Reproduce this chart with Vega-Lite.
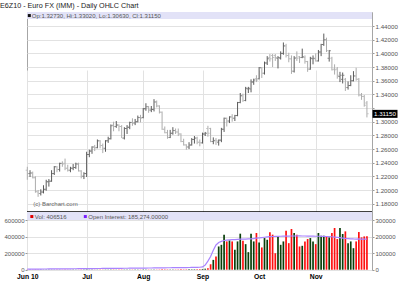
{
  "$schema": "https://vega.github.io/schema/vega-lite/v6.json",
  "width": 345,
  "height": 258,
  "autosize": {"type": "none"},
  "padding": {"left": 27, "top": 12, "right": 28, "bottom": 23},
  "background": "white",
  "config": {
    "view": {"stroke": "#a6a6a6"},
    "font": "Liberation Sans",
    "axis": {"labelFont": "Liberation Sans", "domain": false}
  },
  "title": {"text": "E6Z10 - Euro FX (IMM) - Daily OHLC Chart", "anchor": "start", "frame": "group", "dx": -27, "offset": 3, "fontSize": 7.2, "fontWeight": "normal", "color": "#1a1a1a", "font": "Liberation Sans"},
  "datasets": {
    "d": [
      {"date": "2010-06-01", "open": 1.2290, "high": 1.2340, "low": 1.2150, "close": 1.2240, "vol": 2100, "oi": 3200},
      {"date": "2010-06-02", "open": 1.2240, "high": 1.2290, "low": 1.2190, "close": 1.2250, "vol": 1800, "oi": 3300},
      {"date": "2010-06-03", "open": 1.2250, "high": 1.2270, "low": 1.2170, "close": 1.2180, "vol": 2500, "oi": 3500},
      {"date": "2010-06-04", "open": 1.2180, "high": 1.2200, "low": 1.1960, "close": 1.1980, "vol": 4100, "oi": 3700},
      {"date": "2010-06-07", "open": 1.1970, "high": 1.2000, "low": 1.1900, "close": 1.1950, "vol": 3300, "oi": 3900},
      {"date": "2010-06-08", "open": 1.1950, "high": 1.2010, "low": 1.1920, "close": 1.1970, "vol": 2900, "oi": 4000},
      {"date": "2010-06-09", "open": 1.1970, "high": 1.2070, "low": 1.1950, "close": 1.2010, "vol": 2600, "oi": 4200},
      {"date": "2010-06-10", "open": 1.2010, "high": 1.2150, "low": 1.1990, "close": 1.2120, "vol": 3100, "oi": 4300},
      {"date": "2010-06-11", "open": 1.2120, "high": 1.2160, "low": 1.2050, "close": 1.2130, "vol": 2200, "oi": 4500},
      {"date": "2010-06-14", "open": 1.2130, "high": 1.2290, "low": 1.2120, "close": 1.2240, "vol": 2700, "oi": 4600},
      {"date": "2010-06-15", "open": 1.2240, "high": 1.2350, "low": 1.2220, "close": 1.2340, "vol": 2400, "oi": 4800},
      {"date": "2010-06-16", "open": 1.2340, "high": 1.2350, "low": 1.2260, "close": 1.2300, "vol": 2000, "oi": 4900},
      {"date": "2010-06-17", "open": 1.2300, "high": 1.2400, "low": 1.2270, "close": 1.2390, "vol": 2300, "oi": 5100},
      {"date": "2010-06-18", "open": 1.2390, "high": 1.2420, "low": 1.2340, "close": 1.2380, "vol": 1900, "oi": 5200},
      {"date": "2010-06-21", "open": 1.2390, "high": 1.2460, "low": 1.2290, "close": 1.2320, "vol": 2800, "oi": 5400},
      {"date": "2010-06-22", "open": 1.2320, "high": 1.2370, "low": 1.2270, "close": 1.2290, "vol": 2100, "oi": 5500},
      {"date": "2010-06-23", "open": 1.2290, "high": 1.2340, "low": 1.2260, "close": 1.2320, "vol": 1700, "oi": 5600},
      {"date": "2010-06-24", "open": 1.2320, "high": 1.2380, "low": 1.2290, "close": 1.2330, "vol": 1900, "oi": 5800},
      {"date": "2010-06-25", "open": 1.2330, "high": 1.2400, "low": 1.2310, "close": 1.2380, "vol": 2200, "oi": 5900},
      {"date": "2010-06-28", "open": 1.2380, "high": 1.2400, "low": 1.2270, "close": 1.2280, "vol": 2000, "oi": 6100},
      {"date": "2010-06-29", "open": 1.2280, "high": 1.2290, "low": 1.2170, "close": 1.2200, "vol": 3000, "oi": 6200},
      {"date": "2010-06-30", "open": 1.2200, "high": 1.2260, "low": 1.2160, "close": 1.2240, "vol": 2400, "oi": 6400},
      {"date": "2010-07-01", "open": 1.2240, "high": 1.2560, "low": 1.2190, "close": 1.2520, "vol": 4200, "oi": 6600},
      {"date": "2010-07-02", "open": 1.2520, "high": 1.2590, "low": 1.2480, "close": 1.2570, "vol": 2500, "oi": 6700},
      {"date": "2010-07-06", "open": 1.2570, "high": 1.2640, "low": 1.2530, "close": 1.2630, "vol": 2300, "oi": 6900},
      {"date": "2010-07-07", "open": 1.2630, "high": 1.2660, "low": 1.2570, "close": 1.2620, "vol": 2100, "oi": 7000},
      {"date": "2010-07-08", "open": 1.2620, "high": 1.2740, "low": 1.2610, "close": 1.2720, "vol": 2600, "oi": 7200},
      {"date": "2010-07-09", "open": 1.2720, "high": 1.2730, "low": 1.2610, "close": 1.2650, "vol": 2000, "oi": 7300},
      {"date": "2010-07-12", "open": 1.2650, "high": 1.2680, "low": 1.2540, "close": 1.2610, "vol": 2200, "oi": 7500},
      {"date": "2010-07-13", "open": 1.2610, "high": 1.2730, "low": 1.2560, "close": 1.2720, "vol": 2700, "oi": 7600},
      {"date": "2010-07-14", "open": 1.2720, "high": 1.2780, "low": 1.2690, "close": 1.2750, "vol": 2400, "oi": 7800},
      {"date": "2010-07-15", "open": 1.2750, "high": 1.2960, "low": 1.2740, "close": 1.2940, "vol": 3900, "oi": 8000},
      {"date": "2010-07-16", "open": 1.2950, "high": 1.3000, "low": 1.2860, "close": 1.2930, "vol": 3300, "oi": 8100},
      {"date": "2010-07-19", "open": 1.2930, "high": 1.3010, "low": 1.2910, "close": 1.2950, "vol": 2200, "oi": 8300},
      {"date": "2010-07-20", "open": 1.2950, "high": 1.2960, "low": 1.2860, "close": 1.2930, "vol": 2500, "oi": 8400},
      {"date": "2010-07-21", "open": 1.2930, "high": 1.2950, "low": 1.2760, "close": 1.2760, "vol": 3100, "oi": 8600},
      {"date": "2010-07-22", "open": 1.2760, "high": 1.2920, "low": 1.2740, "close": 1.2900, "vol": 2800, "oi": 8700},
      {"date": "2010-07-23", "open": 1.2900, "high": 1.2950, "low": 1.2820, "close": 1.2920, "vol": 2300, "oi": 8900},
      {"date": "2010-07-26", "open": 1.2920, "high": 1.3000, "low": 1.2890, "close": 1.2990, "vol": 2600, "oi": 9000},
      {"date": "2010-07-27", "open": 1.2990, "high": 1.3050, "low": 1.2940, "close": 1.2980, "vol": 2900, "oi": 9200},
      {"date": "2010-07-28", "open": 1.2980, "high": 1.3040, "low": 1.2950, "close": 1.3000, "vol": 2400, "oi": 9300},
      {"date": "2010-07-29", "open": 1.3000, "high": 1.3090, "low": 1.2990, "close": 1.3060, "vol": 2700, "oi": 9500},
      {"date": "2010-07-30", "open": 1.3060, "high": 1.3100, "low": 1.2990, "close": 1.3050, "vol": 2500, "oi": 9700},
      {"date": "2010-08-02", "open": 1.3060, "high": 1.3200, "low": 1.3050, "close": 1.3190, "vol": 3400, "oi": 9900},
      {"date": "2010-08-03", "open": 1.3190, "high": 1.3270, "low": 1.3160, "close": 1.3220, "vol": 3100, "oi": 10100},
      {"date": "2010-08-04", "open": 1.3220, "high": 1.3230, "low": 1.3130, "close": 1.3170, "vol": 2900, "oi": 10200},
      {"date": "2010-08-05", "open": 1.3170, "high": 1.3230, "low": 1.3140, "close": 1.3180, "vol": 2600, "oi": 10400},
      {"date": "2010-08-06", "open": 1.3180, "high": 1.3330, "low": 1.3150, "close": 1.3290, "vol": 3800, "oi": 10600},
      {"date": "2010-08-09", "open": 1.3290, "high": 1.3310, "low": 1.3210, "close": 1.3230, "vol": 2700, "oi": 10800},
      {"date": "2010-08-10", "open": 1.3230, "high": 1.3240, "low": 1.3120, "close": 1.3140, "vol": 3300, "oi": 11000},
      {"date": "2010-08-11", "open": 1.3140, "high": 1.3150, "low": 1.2880, "close": 1.2890, "vol": 5200, "oi": 11300},
      {"date": "2010-08-12", "open": 1.2890, "high": 1.2930, "low": 1.2830, "close": 1.2840, "vol": 4300, "oi": 11500},
      {"date": "2010-08-13", "open": 1.2840, "high": 1.2880, "low": 1.2750, "close": 1.2770, "vol": 3900, "oi": 11700},
      {"date": "2010-08-16", "open": 1.2770, "high": 1.2880, "low": 1.2760, "close": 1.2830, "vol": 3100, "oi": 11900},
      {"date": "2010-08-17", "open": 1.2830, "high": 1.2920, "low": 1.2810, "close": 1.2870, "vol": 3500, "oi": 12100},
      {"date": "2010-08-18", "open": 1.2870, "high": 1.2900, "low": 1.2820, "close": 1.2850, "vol": 3000, "oi": 12300},
      {"date": "2010-08-19", "open": 1.2850, "high": 1.2900, "low": 1.2790, "close": 1.2820, "vol": 3600, "oi": 12500},
      {"date": "2010-08-20", "open": 1.2820, "high": 1.2830, "low": 1.2700, "close": 1.2710, "vol": 4100, "oi": 12700},
      {"date": "2010-08-23", "open": 1.2710, "high": 1.2750, "low": 1.2650, "close": 1.2660, "vol": 3800, "oi": 12900},
      {"date": "2010-08-24", "open": 1.2660, "high": 1.2670, "low": 1.2590, "close": 1.2630, "vol": 4400, "oi": 13100},
      {"date": "2010-08-25", "open": 1.2630, "high": 1.2700, "low": 1.2600, "close": 1.2660, "vol": 4000, "oi": 13400},
      {"date": "2010-08-26", "open": 1.2660, "high": 1.2760, "low": 1.2650, "close": 1.2740, "vol": 4700, "oi": 13700},
      {"date": "2010-08-27", "open": 1.2740, "high": 1.2790, "low": 1.2680, "close": 1.2760, "vol": 5100, "oi": 14000},
      {"date": "2010-08-30", "open": 1.2760, "high": 1.2780, "low": 1.2670, "close": 1.2700, "vol": 5600, "oi": 14400},
      {"date": "2010-08-31", "open": 1.2700, "high": 1.2740, "low": 1.2640, "close": 1.2690, "vol": 6900, "oi": 15000},
      {"date": "2010-09-01", "open": 1.2690, "high": 1.2840, "low": 1.2680, "close": 1.2820, "vol": 9000, "oi": 17000},
      {"date": "2010-09-02", "open": 1.2820, "high": 1.2850, "low": 1.2790, "close": 1.2830, "vol": 12000, "oi": 28000},
      {"date": "2010-09-03", "open": 1.2900, "high": 1.2940, "low": 1.2780, "close": 1.2830, "vol": 17000, "oi": 52000},
      {"date": "2010-09-07", "open": 1.2900, "high": 1.2910, "low": 1.2700, "close": 1.2710, "vol": 66000, "oi": 80000},
      {"date": "2010-09-08", "open": 1.2710, "high": 1.2770, "low": 1.2670, "close": 1.2720, "vol": 119000, "oi": 118000},
      {"date": "2010-09-09", "open": 1.2730, "high": 1.2760, "low": 1.2660, "close": 1.2720, "vol": 160000, "oi": 150000},
      {"date": "2010-09-10", "open": 1.2700, "high": 1.2740, "low": 1.2650, "close": 1.2730, "vol": 282000, "oi": 165000},
      {"date": "2010-09-13", "open": 1.2730, "high": 1.2910, "low": 1.2700, "close": 1.2890, "vol": 302000, "oi": 172000},
      {"date": "2010-09-14", "open": 1.2890, "high": 1.3060, "low": 1.2850, "close": 1.3050, "vol": 425000, "oi": 177000},
      {"date": "2010-09-15", "open": 1.3050, "high": 1.3060, "low": 1.2930, "close": 1.3010, "vol": 343000, "oi": 179000},
      {"date": "2010-09-16", "open": 1.3010, "high": 1.3080, "low": 1.2980, "close": 1.3070, "vol": 355000, "oi": 181000},
      {"date": "2010-09-17", "open": 1.3070, "high": 1.3110, "low": 1.3000, "close": 1.3050, "vol": 343000, "oi": 182000},
      {"date": "2010-09-20", "open": 1.3050, "high": 1.3100, "low": 1.3010, "close": 1.3090, "vol": 241000, "oi": 183000},
      {"date": "2010-09-21", "open": 1.3090, "high": 1.3290, "low": 1.3080, "close": 1.3280, "vol": 343000, "oi": 184000},
      {"date": "2010-09-22", "open": 1.3280, "high": 1.3420, "low": 1.3270, "close": 1.3380, "vol": 437000, "oi": 185000},
      {"date": "2010-09-23", "open": 1.3380, "high": 1.3410, "low": 1.3290, "close": 1.3310, "vol": 351000, "oi": 185500},
      {"date": "2010-09-24", "open": 1.3310, "high": 1.3510, "low": 1.3300, "close": 1.3490, "vol": 310000, "oi": 186000},
      {"date": "2010-09-27", "open": 1.3480, "high": 1.3510, "low": 1.3420, "close": 1.3490, "vol": 213000, "oi": 186500},
      {"date": "2010-09-28", "open": 1.3480, "high": 1.3620, "low": 1.3430, "close": 1.3580, "vol": 437000, "oi": 187000},
      {"date": "2010-09-29", "open": 1.3580, "high": 1.3630, "low": 1.3540, "close": 1.3610, "vol": 343000, "oi": 189000},
      {"date": "2010-09-30", "open": 1.3630, "high": 1.3680, "low": 1.3580, "close": 1.3610, "vol": 445000, "oi": 191000},
      {"date": "2010-10-01", "open": 1.3630, "high": 1.3800, "low": 1.3620, "close": 1.3790, "vol": 331000, "oi": 193000},
      {"date": "2010-10-04", "open": 1.3790, "high": 1.3800, "low": 1.3640, "close": 1.3710, "vol": 270000, "oi": 195000},
      {"date": "2010-10-05", "open": 1.3710, "high": 1.3880, "low": 1.3690, "close": 1.3860, "vol": 384000, "oi": 197000},
      {"date": "2010-10-06", "open": 1.3860, "high": 1.3960, "low": 1.3830, "close": 1.3920, "vol": 363000, "oi": 199000},
      {"date": "2010-10-07", "open": 1.3940, "high": 1.3990, "low": 1.3880, "close": 1.3920, "vol": 453000, "oi": 200500},
      {"date": "2010-10-08", "open": 1.3970, "high": 1.3990, "low": 1.3800, "close": 1.3940, "vol": 425000, "oi": 201500},
      {"date": "2010-10-11", "open": 1.3970, "high": 1.3990, "low": 1.3890, "close": 1.3940, "vol": 200000, "oi": 202000},
      {"date": "2010-10-12", "open": 1.3930, "high": 1.3960, "low": 1.3780, "close": 1.3940, "vol": 404000, "oi": 202500},
      {"date": "2010-10-13", "open": 1.3930, "high": 1.4030, "low": 1.3910, "close": 1.4000, "vol": 302000, "oi": 203000},
      {"date": "2010-10-14", "open": 1.4000, "high": 1.4160, "low": 1.3980, "close": 1.4110, "vol": 343000, "oi": 203500},
      {"date": "2010-10-15", "open": 1.4110, "high": 1.4140, "low": 1.3940, "close": 1.3970, "vol": 474000, "oi": 204000},
      {"date": "2010-10-18", "open": 1.3970, "high": 1.4010, "low": 1.3870, "close": 1.3920, "vol": 322000, "oi": 204000},
      {"date": "2010-10-19", "open": 1.3920, "high": 1.3970, "low": 1.3700, "close": 1.3740, "vol": 494000, "oi": 204500},
      {"date": "2010-10-20", "open": 1.3740, "high": 1.3960, "low": 1.3720, "close": 1.3930, "vol": 445000, "oi": 204500},
      {"date": "2010-10-21", "open": 1.3940, "high": 1.4030, "low": 1.3890, "close": 1.3930, "vol": 425000, "oi": 205000},
      {"date": "2010-10-22", "open": 1.3950, "high": 1.3960, "low": 1.3860, "close": 1.3940, "vol": 282000, "oi": 205000},
      {"date": "2010-10-25", "open": 1.3940, "high": 1.4070, "low": 1.3930, "close": 1.3950, "vol": 290000, "oi": 204500},
      {"date": "2010-10-26", "open": 1.3940, "high": 1.3970, "low": 1.3850, "close": 1.3880, "vol": 343000, "oi": 204500},
      {"date": "2010-10-27", "open": 1.3880, "high": 1.3890, "low": 1.3730, "close": 1.3770, "vol": 372000, "oi": 204000},
      {"date": "2010-10-28", "open": 1.3770, "high": 1.3950, "low": 1.3760, "close": 1.3930, "vol": 384000, "oi": 204000},
      {"date": "2010-10-29", "open": 1.3920, "high": 1.3970, "low": 1.3840, "close": 1.3930, "vol": 343000, "oi": 203500},
      {"date": "2010-11-01", "open": 1.3920, "high": 1.4000, "low": 1.3880, "close": 1.3890, "vol": 310000, "oi": 203000},
      {"date": "2010-11-02", "open": 1.3890, "high": 1.4050, "low": 1.3880, "close": 1.4020, "vol": 445000, "oi": 203000},
      {"date": "2010-11-03", "open": 1.4020, "high": 1.4140, "low": 1.3960, "close": 1.4130, "vol": 412000, "oi": 202500},
      {"date": "2010-11-04", "open": 1.4130, "high": 1.4290, "low": 1.4110, "close": 1.4200, "vol": 412000, "oi": 202000},
      {"date": "2010-11-05", "open": 1.4200, "high": 1.4230, "low": 1.4020, "close": 1.4040, "vol": 404000, "oi": 201500},
      {"date": "2010-11-08", "open": 1.3930, "high": 1.4050, "low": 1.3880, "close": 1.4040, "vol": 392000, "oi": 201000},
      {"date": "2010-11-09", "open": 1.3930, "high": 1.3950, "low": 1.3750, "close": 1.3760, "vol": 445000, "oi": 200000},
      {"date": "2010-11-10", "open": 1.3770, "high": 1.3840, "low": 1.3690, "close": 1.3760, "vol": 506000, "oi": 198000},
      {"date": "2010-11-11", "open": 1.3770, "high": 1.3800, "low": 1.3630, "close": 1.3680, "vol": 372000, "oi": 196000},
      {"date": "2010-11-12", "open": 1.3660, "high": 1.3730, "low": 1.3580, "close": 1.3680, "vol": 506000, "oi": 194000},
      {"date": "2010-11-15", "open": 1.3620, "high": 1.3720, "low": 1.3560, "close": 1.3680, "vol": 433000, "oi": 192000},
      {"date": "2010-11-16", "open": 1.3620, "high": 1.3640, "low": 1.3450, "close": 1.3500, "vol": 465000, "oi": 190000},
      {"date": "2010-11-17", "open": 1.3500, "high": 1.3590, "low": 1.3470, "close": 1.3530, "vol": 322000, "oi": 189000},
      {"date": "2010-11-18", "open": 1.3530, "high": 1.3680, "low": 1.3520, "close": 1.3600, "vol": 343000, "oi": 187500},
      {"date": "2010-11-19", "open": 1.3600, "high": 1.3740, "low": 1.3590, "close": 1.3670, "vol": 261000, "oi": 186500},
      {"date": "2010-11-22", "open": 1.3670, "high": 1.3790, "low": 1.3600, "close": 1.3620, "vol": 343000, "oi": 186000},
      {"date": "2010-11-23", "open": 1.3620, "high": 1.3640, "low": 1.3370, "close": 1.3390, "vol": 457000, "oi": 186500},
      {"date": "2010-11-24", "open": 1.3390, "high": 1.3420, "low": 1.3320, "close": 1.3370, "vol": 392000, "oi": 186000},
      {"date": "2010-11-26", "open": 1.3370, "high": 1.3390, "low": 1.3220, "close": 1.3240, "vol": 404000, "oi": 185800},
      {"date": "2010-11-29", "open": 1.3273, "high": 1.3302, "low": 1.3063, "close": 1.3115, "vol": 406516, "oi": 185274}
    ]
  },
  "layer": [
    {
      "layer": [
        {
          "data": {"values": [{}]},
          "mark": {"type": "rect", "color": "#e2e2f7"},
          "encoding": {
            "x": {"value": 0}, "x2": {"value": "width"},
            "y": {"datum": 1.4606, "type": "quantitative"}, "y2": {"datum": 1.4502}
          }
        },
        {
          "data": {"name": "d"},
          "mark": {"type": "rule", "strokeWidth": 1},
          "encoding": {
            "x": {"field": "date", "type": "ordinal",
              "scale": {"type": "point", "padding": 3.35, "align": 0.06, "round": false},
              "axis": {"orient": "bottom", "title": null, "values": ["2010-06-01", "2010-07-01", "2010-08-02", "2010-09-01", "2010-10-01", "2010-11-01"],
                "labelExpr": "datum.value == '2010-06-01' ? 'Jun 10' : datum.value == '2010-07-01' ? 'Jul' : datum.value == '2010-08-02' ? 'Aug' : datum.value == '2010-09-01' ? 'Sep' : datum.value == '2010-10-01' ? 'Oct' : 'Nov'",
                "labelAngle": 0, "grid": true, "gridColor": "#e2e2e2", "ticks": false, "domain": false,
                "labelFontWeight": "bold", "labelFontSize": 6.8, "labelColor": "#000", "labelPadding": 3, "labelOverlap": false}},
            "y": {"field": "low", "type": "quantitative",
              "scale": {"domain": [1.1678, 1.4606], "range": [200, 0], "zero": false, "nice": false},
              "axis": {"orient": "right", "title": null, "values": [1.18, 1.2, 1.22, 1.24, 1.26, 1.28, 1.3, 1.32, 1.34, 1.36, 1.38, 1.4, 1.42, 1.44],
                "tickCount": 30,
                "labelExpr": "abs(datum.value - 1.32) < 0.001 ? '' : format(datum.value, '.5f')",
                "grid": true, "gridColor": "#e2e2e2", "ticks": true, "tickSize": 2, "tickColor": "#999", "domain": false,
                "labelFontSize": 6.2, "labelColor": "#555", "labelPadding": 1, "labelOverlap": false}},
            "y2": {"field": "high"},
            "color": {"condition": {"test": "datum.close >= datum.open", "value": "#5a5a5a"}, "value": "#acacac"}
          }
        },
        {
          "data": {"name": "d"},
          "mark": {"type": "tick", "orient": "horizontal", "size": 1.4, "thickness": 1, "xOffset": -1},
          "encoding": {
            "x": {"field": "date", "type": "ordinal"},
            "y": {"field": "open", "type": "quantitative"},
            "color": {"condition": {"test": "datum.close >= datum.open", "value": "#5a5a5a"}, "value": "#acacac"}
          }
        },
        {
          "data": {"name": "d"},
          "mark": {"type": "tick", "orient": "horizontal", "size": 1.4, "thickness": 1, "xOffset": 1},
          "encoding": {
            "x": {"field": "date", "type": "ordinal"},
            "y": {"field": "close", "type": "quantitative"},
            "color": {"condition": {"test": "datum.close >= datum.open", "value": "#5a5a5a"}, "value": "#acacac"}
          }
        },
        {
          "data": {"values": [{}]},
          "mark": {"type": "rule", "color": "#000", "strokeWidth": 1.5},
          "encoding": {"y": {"datum": 1.1678, "type": "quantitative"}}
        },
        {
          "data": {"values": [{}]},
          "mark": {"type": "point", "shape": "square", "filled": true, "color": "#111", "opacity": 1, "size": 9, "xOffset": 2},
          "encoding": {"x": {"datum": "2010-06-01", "type": "ordinal"}, "y": {"datum": 1.4554, "type": "quantitative"}}
        },
        {
          "data": {"values": [{}]},
          "mark": {"type": "text", "align": "left", "baseline": "middle", "dx": 4.5, "fontSize": 6, "color": "#555", "text": "Op:1.32730, Hi:1.33020, Lo:1.30630, Cl:1.31150"},
          "encoding": {"x": {"datum": "2010-06-01", "type": "ordinal"}, "y": {"datum": 1.4554, "type": "quantitative"}}
        },
        {
          "data": {"values": [{}]},
          "mark": {"type": "text", "align": "left", "baseline": "middle", "dx": 6, "fontSize": 6, "color": "#666", "text": "(c) Barchart.com"},
          "encoding": {"x": {"datum": "2010-06-01", "type": "ordinal"}, "y": {"datum": 1.1795, "type": "quantitative"}}
        },
        {
          "data": {"values": [{}]},
          "mark": {"type": "point", "shape": "M-1,-0.32L1,-0.32L1,0.32L-1,0.32Z", "filled": true, "color": "#000", "opacity": 1, "size": 625, "xOffset": 13},
          "encoding": {"x": {"value": "width"}, "y": {"datum": 1.3115, "type": "quantitative"}}
        },
        {
          "data": {"values": [{}]},
          "mark": {"type": "text", "align": "left", "baseline": "middle", "dx": 2, "fontSize": 6.2, "color": "#fff", "text": "1.31150"},
          "encoding": {"x": {"value": "width"}, "y": {"datum": 1.3115, "type": "quantitative"}}
        }
      ]
    },
    {
      "layer": [
        {
          "data": {"name": "d"},
          "mark": {"type": "bar", "width": 1.7},
          "encoding": {
            "x": {"field": "date", "type": "ordinal"},
            "y": {"field": "vol", "type": "quantitative",
              "scale": {"domain": [0, 700000], "range": [257.7, 200], "nice": false},
              "axis": {"orient": "left", "title": null, "values": [0, 200000, 400000, 600000], "format": "d", "tickCount": 30,
                "grid": true, "gridColor": "#e2e2e2", "ticks": true, "tickSize": 2, "tickColor": "#999", "domain": false,
                "labelFontSize": 6, "labelColor": "#555", "labelPadding": 1, "labelOverlap": false}},
            "color": {"condition": {"test": "datum.close >= datum.open", "value": "#0a3f0a"}, "value": "#ff1010"}
          }
        },
        {
          "data": {"values": [{}]},
          "mark": {"type": "rect", "color": "#e2e2f7"},
          "encoding": {
            "x": {"value": 0}, "x2": {"value": "width"},
            "y": {"datum": 700000, "type": "quantitative"}, "y2": {"datum": 603000}
          }
        },
        {
          "data": {"values": [{}]},
          "mark": {"type": "point", "shape": "square", "filled": true, "color": "#e00000", "opacity": 1, "size": 9, "xOffset": 4.5},
          "encoding": {"x": {"datum": "2010-06-01", "type": "ordinal"}, "y": {"datum": 645000, "type": "quantitative"}}
        },
        {
          "data": {"values": [{}]},
          "mark": {"type": "text", "align": "left", "baseline": "middle", "dx": 7.5, "fontSize": 6, "color": "#555", "text": "Vol: 406516"},
          "encoding": {"x": {"datum": "2010-06-01", "type": "ordinal"}, "y": {"datum": 645000, "type": "quantitative"}}
        },
        {
          "data": {"values": [{}]},
          "mark": {"type": "point", "shape": "square", "filled": true, "color": "#7a1fff", "opacity": 1, "size": 9, "xOffset": 58},
          "encoding": {"x": {"datum": "2010-06-01", "type": "ordinal"}, "y": {"datum": 645000, "type": "quantitative"}}
        },
        {
          "data": {"values": [{}]},
          "mark": {"type": "text", "align": "left", "baseline": "middle", "dx": 61, "fontSize": 6, "color": "#555", "text": "Open Interest: 185,274.00000"},
          "encoding": {"x": {"datum": "2010-06-01", "type": "ordinal"}, "y": {"datum": 645000, "type": "quantitative"}}
        }
      ]
    },
    {
      "data": {"name": "d"},
      "mark": {"type": "line", "color": "#a983ff", "strokeWidth": 1.2},
      "encoding": {
        "x": {"field": "date", "type": "ordinal"},
        "y": {"field": "oi", "type": "quantitative",
          "scale": {"domain": [0, 350000], "range": [257.7, 200], "nice": false},
          "axis": {"orient": "right", "title": null, "values": [0, 100000, 200000, 300000], "format": "d", "tickCount": 30,
            "grid": false, "ticks": true, "tickSize": 2, "tickColor": "#999", "domain": false,
            "labelFontSize": 6, "labelColor": "#555", "labelPadding": 1, "labelOverlap": false}}
      }
    }
  ],
  "resolve": {"scale": {"y": "independent"}, "axis": {"y": "independent"}}
}
